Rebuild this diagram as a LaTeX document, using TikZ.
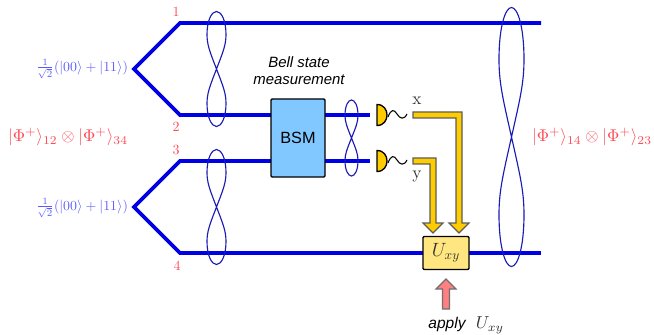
\documentclass[tikz,border=0pt]{standalone}
\usepackage{fontspec}
\setsansfont{Liberation Sans}
\definecolor{wire}{HTML}{0000E6}
\definecolor{braid}{HTML}{1A1AB4}
\definecolor{lblue}{HTML}{5A5AFF}
\definecolor{lred}{HTML}{FF4A55}
\definecolor{gold}{HTML}{FFCC00}
\definecolor{ink}{HTML}{333333}
\definecolor{bsmfill}{HTML}{80C8FF}
\definecolor{uxyfill}{HTML}{FFE680}
\definecolor{redfill}{HTML}{FF8080}
\tikzset{
  wireline/.style={draw=wire,line width=2.8pt,line join=miter},
  thinwire/.style={draw=wire,line width=2.6pt},
  braidline/.style={draw=braid,line width=0.85pt},
  box/.style={draw=black,line width=1.1pt,rounded corners=0.8pt,inner sep=0pt},
  goldarrow/.style={draw=ink!80,fill=gold,line width=0.85pt,line join=miter},
  redarrow/.style={draw=ink!70,fill=redfill,line width=0.85pt,line join=miter},
  detector/.style={draw=black,fill=gold,line width=1pt},
  squig/.style={draw=black,line width=0.8pt},
  statelabel/.style={text=lred,scale=1.28,inner sep=0pt},
  pairlabel/.style={text=lblue,scale=1.04,inner sep=0pt},
  numlabel/.style={text=lred,scale=1.05,inner sep=0pt},
  caplabel/.style={font=\sffamily\itshape,text=black,scale=1.12,inner sep=0pt},
  outlabel/.style={text=ink,scale=1.3,inner sep=0pt},
}
\newcommand{\mybraid}[4]{%
  \begin{scope}[shift={(#1,#2)},xscale=#3,yscale=#4]
    \draw[braidline] (0,0) .. controls (-0.7,-0.3) and (-1,-0.42) .. (-1,-0.6)
      .. controls (-1,-0.85) and (-0.5,-1) .. (0,-1)
      .. controls (0.5,-1) and (1,-0.85) .. (1,-0.6)
      .. controls (1,-0.42) and (0.7,-0.3) .. (0,0)
      .. controls (-0.7,0.3) and (-1,0.42) .. (-1,0.6)
      .. controls (-1,0.85) and (-0.5,1) .. (0,1)
      .. controls (0.5,1) and (1,0.85) .. (1,0.6)
      .. controls (1,0.42) and (0.7,0.3) .. (0,0) -- cycle;
  \end{scope}}
\newcommand{\mydet}[1]{%
  \begin{scope}[shift={(377,#1)}]
    \draw[detector] (0,-10.5) .. controls (7,-10.5) and (10,-5) .. (10,0)
      .. controls (10,5) and (7,10.5) .. (0,10.5) -- cycle;
    \draw[squig] (11,2) .. controls (14,-6) and (17,-6) .. (20,-1)
      .. controls (23,4) and (27,5) .. (30,-1);
  \end{scope}}
% start y, column x
\newcommand{\mygold}[2]{%
  \draw[goldarrow] (413,#1-3) -- (#2+3,#1-3) -- (#2+3,223) -- (#2+10,223) -- (#2,233)
    -- (#2-10,223) -- (#2-3,223) -- (#2-3,#1+3) -- (413,#1+3) -- cycle;}
\begin{document}
\begin{tikzpicture}[x=0.75pt,y=-0.75pt]
\useasboundingbox (0,0) rectangle (654,335);
% named points
\coordinate (apexA) at (134,69);
\coordinate (apexB) at (134,207);
\coordinate (t1) at (180,23);
\coordinate (t2) at (180,115);
\coordinate (t3) at (180,161);
\coordinate (t4) at (180,253);
\coordinate (e1) at (541,23);
\coordinate (e4) at (541,253);
\coordinate (d1) at (370,115);
\coordinate (d2) at (370,161);
\coordinate (bw) at (271,138);
\coordinate (be) at (325,138);
\coordinate (uw) at (423,253);
\coordinate (ue) at (469,253);
% wires
\draw[wireline] (e1) -- (t1) -- (apexA) -- (t2) -- (bw |- t2);
\draw[wireline] (bw |- t3) -- (t3) -- (apexB) -- (t4) -- (uw);
\draw[wireline] (ue) -- (e4);
\draw[thinwire] (be |- d1) -- (d1);
\draw[thinwire] (be |- d2) -- (d2);
% boxes
\node[box,fill=bsmfill,minimum width=40.5pt,minimum height=58.5pt] (bsm) at (298,138) {\sffamily\fontsize{12.2}{14}\selectfont BSM};
\node[box,fill=uxyfill,minimum width=34.5pt,minimum height=24.75pt,text=ink] (uxy) at (446,253) {\Large $U_{xy}$};
% entanglement braids
\mybraid{216.5}{69}{9.5}{57.5}
\mybraid{216.5}{207}{9.5}{57.5}
\mybraid{351.5}{138}{6.5}{38}
\mybraid{511.5}{137}{12.5}{129.5}
% detectors
\mydet{115}
\mydet{161}
% classical arrows
\mygold{115}{459}
\mygold{161}{433}
\draw[redarrow] (446,279) -- (456,289) -- (449.5,289) -- (449.5,309) -- (442.5,309) -- (442.5,289) -- (436,289) -- cycle;
% labels
\node[pairlabel] (pa) at (82,69) {$\frac{1}{\sqrt{2}}(|00\rangle+|11\rangle)$};
\node[pairlabel] (pb) at (82,208) {$\frac{1}{\sqrt{2}}(|00\rangle+|11\rangle)$};
\node[statelabel] (sl) at (68,137) {$|\Phi^+\rangle_{12}\otimes|\Phi^+\rangle_{34}$};
\node[statelabel] (sr) at (592,137) {$|\Phi^+\rangle_{14}\otimes|\Phi^+\rangle_{23}$};
\node[numlabel] (n1) at (176,12) {1};
\node[numlabel] (n2) at (176,127) {2};
\node[numlabel] (n3) at (176,150) {3};
\node[numlabel] (n4) at (177,266) {4};
\node[caplabel] (c1) at (299,62) {Bell state};
\node[caplabel] (c2) at (299,80) {measurement};
\node[outlabel] (ox) at (417,101) {x};
\node[outlabel] (oy) at (417,177) {y};
\node[caplabel,scale=1.04] (ap) at (447,324) {apply};
\node[text=ink,scale=1.3,inner sep=0pt] (au) at (490,325) {$U_{xy}$};
\end{tikzpicture}
\end{document}
